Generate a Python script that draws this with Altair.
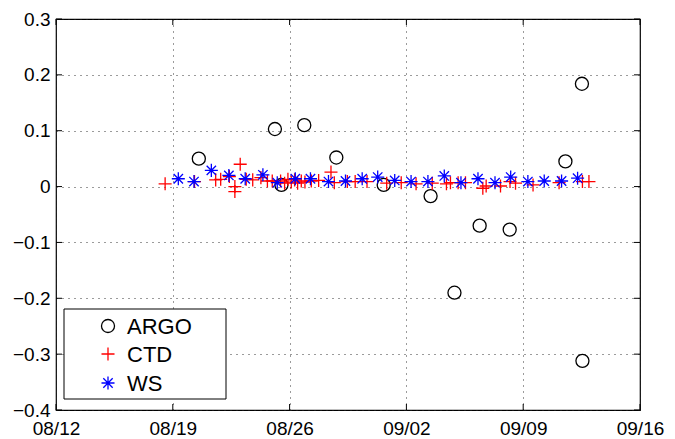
import altair as alt
import pandas as pd

# ---------------- data ----------------
series_names = ["ARGO", "CTD", "WS"]
series_colors = ["black", "red", "blue"]

# days after 08/12
argo_days = [8.56, 13.12, 13.51, 14.88, 16.80, 19.64, 22.45, 23.88, 25.39, 27.19, 30.53, 31.52, 31.55]
argo_vals = [0.050, 0.103, 0.003, 0.110, 0.052, 0.003, -0.017, -0.190, -0.070, -0.077, 0.045, 0.184, -0.312]

ctd_days = [6.54, 8.30, 9.57, 9.87, 10.39, 10.72, 10.72, 11.04, 11.40, 11.79, 12.28, 12.67,
            12.96, 13.46, 13.70, 13.90, 14.10, 14.30, 14.48, 14.70, 14.92, 15.30, 15.74,
            16.48, 16.68, 17.46, 17.93, 18.64, 19.82, 20.69, 21.58, 22.55, 23.40, 23.64,
            24.10, 24.54, 25.58, 25.78, 26.64, 27.21, 27.54, 28.59, 30.15, 31.55, 31.94]
ctd_vals = [0.005, 0.009, 0.012, 0.013, 0.018, 0.000, -0.009, 0.040, 0.013, 0.012, 0.016, 0.010,
            0.010, 0.010, 0.006, 0.013, 0.008, 0.012, 0.006, 0.010, 0.008, 0.010, 0.011,
            0.026, 0.007, 0.009, 0.009, 0.009, 0.006, 0.007, 0.005, 0.006, 0.005, 0.007,
            0.007, 0.007, -0.003, 0.001, 0.001, 0.009, 0.006, 0.003, 0.007, 0.009, 0.009]

ws_days = [7.33, 8.27, 9.31, 10.36, 11.34, 12.40, 13.26, 14.34, 15.25, 16.33, 17.35, 18.35,
           19.28, 20.30, 21.28, 22.29, 23.27, 24.27, 25.29, 26.31, 27.25, 28.28, 29.26, 30.30, 31.26]
ws_vals = [0.014, 0.009, 0.029, 0.020, 0.014, 0.021, 0.007, 0.014, 0.014, 0.009, 0.010, 0.014,
           0.017, 0.011, 0.009, 0.009, 0.019, 0.007, 0.014, 0.007, 0.017, 0.009, 0.010, 0.010, 0.015]

x_tick_labels = ["08/12", "08/19", "08/26", "09/02", "09/09", "09/16"]
y_ticks = [-0.4, -0.3, -0.2, -0.1, 0, 0.1, 0.2, 0.3]
year = 2014

# ---------------- build tables ----------------
base = pd.Timestamp(f"{year}-08-12")


def to_dates(days):
    return [base + pd.Timedelta(days=d) for d in days]


rows = []
for name, days, vals in [("ARGO", argo_days, argo_vals), ("CTD", ctd_days, ctd_vals), ("WS", ws_days, ws_vals)]:
    for t, v in zip(to_dates(days), vals):
        rows.append({"source": name, "date": t, "value": v})
df = pd.DataFrame(rows)
df["order"] = df["source"].map({n: i for i, n in enumerate(series_names)})

tick_dt = [alt.DateTime(year=year, month=int(l[:2]), date=int(l[3:])) for l in x_tick_labels]
xtick_df = pd.DataFrame({"date": [pd.Timestamp(f"{year}-{l[:2]}-{l[3:]}") for l in x_tick_labels]})
ytick_df = pd.DataFrame({"value": y_ticks})

W, H = 584, 391
FONT = "Liberation Sans"

PLUS = "M-1,0L1,0M0,-1L0,1"
STAR = "M-1,0L1,0M0,-1L0,1M-0.72,-0.72L0.72,0.72M-0.72,0.72L0.72,-0.72"

shape_scale = alt.Scale(domain=series_names, range=["circle", PLUS, STAR])
color_scale = alt.Scale(domain=series_names, range=series_colors)

x_enc = alt.X("date:T", scale=alt.Scale(domain=[tick_dt[0], tick_dt[-1]]),
              axis=alt.Axis(values=tick_dt, format="%m/%d", title=None, labelPadding=9,
                            labelFlush=False))
y_enc = alt.Y("value:Q", scale=alt.Scale(domain=[-0.4, 0.3], nice=False, zero=False),
              axis=alt.Axis(values=y_ticks, format="~g", title=None, labelPadding=6))

points = alt.Chart(df).mark_point(filled=False, strokeWidth=1.3, size=170, opacity=1).encode(
    x=x_enc,
    y=y_enc,
    shape=alt.Shape("source:N", scale=shape_scale, legend=None),
    color=alt.Color("source:N", scale=color_scale, legend=None),
    order=alt.Order("order:Q"),
)

# inner ticks (MATLAB style)
tick_style = dict(color="black", strokeWidth=1)
xt_bottom = alt.Chart(xtick_df).mark_rule(**tick_style).encode(
    x="date:T", y=alt.value(H), y2=alt.value(H - 6))
xt_top = alt.Chart(xtick_df).mark_rule(**tick_style).encode(
    x="date:T", y=alt.value(0), y2=alt.value(6))
yt_left = alt.Chart(ytick_df).mark_rule(**tick_style).encode(
    y="value:Q", x=alt.value(0), x2=alt.value(6))
yt_right = alt.Chart(ytick_df).mark_rule(**tick_style).encode(
    y="value:Q", x=alt.value(W - 6), x2=alt.value(W))

# manual legend box
leg_box = alt.Chart(pd.DataFrame({"k": [0]})).mark_rect(
    fill="white", stroke="black", strokeWidth=1).encode(
    x=alt.value(8), x2=alt.value(170), y=alt.value(290), y2=alt.value(380))

row_y = [307, 335, 364]
leg_layers = []
for i, name in enumerate(series_names):
    ldf = pd.DataFrame({"source": [name]})
    leg_layers.append(alt.Chart(ldf).mark_point(filled=False, strokeWidth=1.3, size=170, opacity=1).encode(
        x=alt.value(52), y=alt.value(row_y[i]),
        shape=alt.Shape("source:N", scale=shape_scale, legend=None),
        color=alt.Color("source:N", scale=color_scale, legend=None)))
    leg_layers.append(alt.Chart(ldf).mark_text(
        align="left", baseline="middle", font=FONT, fontSize=22, color="black").encode(
        x=alt.value(71), y=alt.value(row_y[i] + 1), text="source:N"))

chart = alt.layer(points, xt_bottom, xt_top, yt_left, yt_right, leg_box, *leg_layers).properties(
    width=W, height=H,
    padding={"left": 48, "top": 11, "right": 27, "bottom": 29},
    autosize=alt.AutoSizeParams(type="none"),
    background="white",
).configure_view(
    stroke="black", strokeWidth=1.2
).configure_axis(
    grid=True, gridDash=[1, 5], gridColor="#222", gridWidth=1, gridOpacity=0.9,
    domain=False, ticks=False,
    labelFont=FONT, labelFontSize=19, labelColor="black",
)

chart.save("out.html", embed_options={"renderer": "svg", "actions": False})
